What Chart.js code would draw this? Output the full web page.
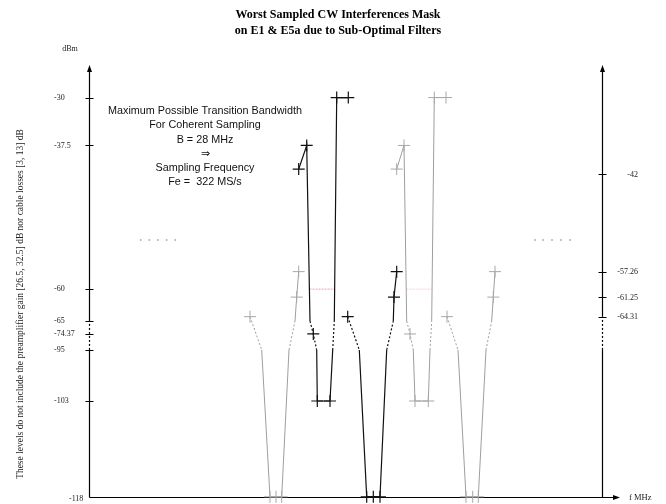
<!DOCTYPE html>
<html><head><meta charset="utf-8">
<script src="https://cdn.jsdelivr.net/npm/chart.js@4.4.1/dist/chart.umd.min.js"></script>
<style>html,body{margin:0;padding:0;background:#fff}</style>
</head><body>
<canvas id="c" width="666" height="504"></canvas>
<script>
// ---------- data (x: relative frequency units, y: dBm) ----------
const titleLines = ['Worst Sampled CW Interferences Mask', 'on E1 & E5a due to Sub-Optimal Filters'];
const noteLines = ['Maximum Possible Transition Bandwidth', 'For Coherent Sampling', 'B = 28 MHz', '\u21D2', 'Sampling Frequency', 'Fe =  322 MS/s'];
const sideNote = 'These levels do not include the preamplifier gain [26.5, 32.5] dB nor cable losses [3, 13] dB';

const leftTicks = [-30, -37.5, -60, -65, -74.37, -95, -103, -118];
const leftTickLabels = ['-30', '-37.5', '-60', '-65', '-74.37', '-95', '-103', '-118'];
const rightTicks = [-42, -57.26, -61.25, -64.31];
const rightTickLabels = ['-42', '-57.26', '-61.25', '-64.31'];

// pattern A: peak / notch ; pattern B: deep rejection
const patternAY = [-41.2, -37.5, -65, -74.37, -95, -103, -103, -95, -65, -30, -30];
const patternAMarks = [1, 1, 0, 1, 0, 1, 1, 0, 0, 1, 1];
const patternBY = [-64.31, -95, -118, -118, -118, -95, -65, -61.25, -57.26];
const patternBMarks = [1, 0, 1, 1, 1, 0, 0, 1, 1];

const grayLeftBX  = [161, 172.7, 181, 187, 192.7, 200, 206, 207.7, 209.7];
const blackAX     = [209.7, 217.7, 221, 224.3, 227.7, 228.3, 241, 243.7, 245.3, 247.7, 259.3];
const blackBX     = [258.7, 270.3, 277.7, 284.3, 291, 297.7, 304.3, 305, 307.7];
const grayRightAX = [307.7, 315, 317.7, 321, 324.3, 326, 339.3, 341, 342.7, 345.3, 357];
const grayRightBX = [358, 369, 377, 383.7, 389.3, 397, 402.7, 404.3, 406];

const pinkLevel = -60;
const blackPinkX = [220.5, 245.6];
const grayPinkX = [317.5, 342.9];

const dotsLevel = -52.3;
const dotsLeftX = [51.7, 60.3, 69, 77.7, 86.3];
const dotsRightX = [446, 454, 463, 472, 481];

const axisX = 0, rightAxisX = 513, arrowX = 531;
const xMin = -33, xMax = 531;
const yMin = -118, yMax = -24.9;
const breakTop = -64.3, breakBottom = -95;

// ---------- broken (piecewise) y scale ----------
const warpIn  = [-20, -65, -74.37, -95, -140];
const warpOut = [-20, -65, -67.02, -69.52, -114.52];
function interp(v, a, b) {
  for (let i = 0; i < a.length - 1; i++) {
    const lo = Math.min(a[i], a[i + 1]), hi = Math.max(a[i], a[i + 1]);
    if (v >= lo && v <= hi) return b[i] + (v - a[i]) * (b[i + 1] - b[i]) / (a[i + 1] - a[i]);
  }
  return v > a[0] ? b[0] + (v - a[0]) : b[b.length - 1] + (v - a[a.length - 1]);
}
const warp = v => interp(v, warpIn, warpOut);
const unwarp = v => interp(v, warpOut, warpIn);

class BrokenScale extends Chart.LinearScale {
  configure() {
    super.configure();
    this._startValue = warp(this.min);
    this._endValue = warp(this.max);
    this._valueRange = this._endValue - this._startValue;
  }
  getPixelForValue(v) {
    return v == null ? NaN : this.getPixelForDecimal((warp(v) - this._startValue) / this._valueRange);
  }
  getValueForPixel(p) {
    return unwarp(this._startValue + this.getDecimalForPixel(p) * this._valueRange);
  }
}
BrokenScale.id = 'broken';
BrokenScale.defaults = Chart.LinearScale.defaults;
Chart.register(BrokenScale);

// ---------- datasets ----------
const pts = (xs, ys) => xs.map((x, i) => ({ x, y: ys[i] }));
const inBreak = v => v <= breakTop && v >= breakBottom;
function series(label, xs, ys, marks, line, mark, w) {
  return {
    label, data: pts(xs, ys), borderColor: line, borderWidth: w,
    pointStyle: 'cross', pointBorderColor: mark, pointBorderWidth: w,
    pointRadius: c => marks[c.dataIndex] ? 6 : 0, pointHoverRadius: 0,
    tension: 0, clip: false,
    segment: { borderDash: c => (inBreak(c.p0.parsed.y) && inBreak(c.p1.parsed.y)) ? [2, 2] : undefined }
  };
}
const GRAY = '#9e9e9e', GRAYM = '#a8a8a8', BLACK = '#111111';
const datasets = [
  series('gray left', grayLeftBX, patternBY, patternBMarks, GRAY, GRAYM, 1),
  series('black A', blackAX, patternAY, patternAMarks, BLACK, BLACK, 1.2),
  series('black B', blackBX, patternBY, patternBMarks, BLACK, BLACK, 1.2),
  series('gray right A', grayRightAX, patternAY, patternAMarks, GRAY, GRAYM, 1),
  series('gray right B', grayRightBX, patternBY, patternBMarks, GRAY, GRAYM, 1),
  { label: 'pink black', data: pts(blackPinkX, [pinkLevel, pinkLevel]), borderColor: '#f29bc4', borderWidth: 1, borderDash: [2, 1], pointRadius: 0 },
  { label: 'pink gray', data: pts(grayPinkX, [pinkLevel, pinkLevel]), borderColor: '#f9cde0', borderWidth: 1, borderDash: [2, 1], pointRadius: 0 },
  { label: 'dots left', data: pts(dotsLeftX, dotsLeftX.map(() => dotsLevel)), showLine: false, pointStyle: 'rect', pointRadius: 1.1, pointBackgroundColor: '#a0a0a0', pointBorderWidth: 0 },
  { label: 'dots right', data: pts(dotsRightX, dotsRightX.map(() => dotsLevel)), showLine: false, pointStyle: 'rect', pointRadius: 1.1, pointBackgroundColor: '#a0a0a0', pointBorderWidth: 0 }
];

// ---------- axes & text plugin ----------
function vAxis(ctx, x, yBottom, yTop, yBreakA, yBreakB) {
  ctx.beginPath(); ctx.setLineDash([]);
  ctx.moveTo(x, yBottom); ctx.lineTo(x, yBreakB);
  ctx.moveTo(x, yBreakA); ctx.lineTo(x, yTop + 5);
  ctx.stroke();
  ctx.beginPath(); ctx.setLineDash([2, 2]);
  ctx.moveTo(x, yBreakB); ctx.lineTo(x, yBreakA); ctx.stroke();
  ctx.setLineDash([]);
  ctx.beginPath(); ctx.moveTo(x, yTop); ctx.lineTo(x - 2.5, yTop + 7); ctx.lineTo(x + 2.5, yTop + 7); ctx.closePath(); ctx.fill();
}
const axesPlugin = {
  id: 'schematicAxes',
  beforeDatasetsDraw(chart) {
    const { ctx, chartArea: a, scales: { x, y } } = chart;
    const xl = Math.round(x.getPixelForValue(axisX)) + 0.5;
    const xr = Math.round(x.getPixelForValue(rightAxisX)) + 0.5;
    const xe = x.getPixelForValue(arrowX);
    const yb = Math.round(y.getPixelForValue(yMin)) + 0.5;
    const yt = a.top;
    ctx.save();
    ctx.strokeStyle = '#000'; ctx.fillStyle = '#000'; ctx.lineWidth = 1.2;
    vAxis(ctx, xl, yb, yt, y.getPixelForValue(-65), y.getPixelForValue(-95));
    vAxis(ctx, xr, yb, yt, y.getPixelForValue(-64.31), y.getPixelForValue(-95));
    ctx.beginPath(); ctx.moveTo(xl, yb); ctx.lineTo(xe - 5, yb); ctx.stroke();
    ctx.beginPath(); ctx.moveTo(xe, yb); ctx.lineTo(xe - 7, yb - 2.5); ctx.lineTo(xe - 7, yb + 2.5); ctx.closePath(); ctx.fill();
    // tick marks
    ctx.lineWidth = 1;
    leftTicks.forEach(v => {
      if (v === yMin) return;
      const py = Math.round(y.getPixelForValue(v)) + 0.5;
      ctx.beginPath(); ctx.moveTo(xl - 4, py); ctx.lineTo(xl + 4, py); ctx.stroke();
    });
    rightTicks.forEach(v => {
      const py = Math.round(y.getPixelForValue(v)) + 0.5;
      ctx.beginPath(); ctx.moveTo(xr - 4, py); ctx.lineTo(xr + 4, py); ctx.stroke();
    });
    // tick labels
    ctx.fillStyle = '#222'; ctx.font = '8px "Liberation Serif"'; ctx.textBaseline = 'middle';
    leftTicks.forEach((v, i) => {
      ctx.textAlign = 'left';
      if (v === yMin) { ctx.fillText(leftTickLabels[i], 69, yb + 1); return; }
      ctx.fillText(leftTickLabels[i], 54, y.getPixelForValue(v));
    });
    ctx.textAlign = 'right';
    rightTicks.forEach((v, i) => ctx.fillText(rightTickLabels[i], 638, y.getPixelForValue(v) + 0.5));
    ctx.textAlign = 'center'; ctx.fillText('dBm', 70, 49);
    ctx.font = '8.5px "Liberation Serif"'; ctx.textAlign = 'left'; ctx.fillText('f MHz', 629, yb);
    // side note
    ctx.save(); ctx.translate(20, 304); ctx.rotate(-Math.PI / 2);
    ctx.font = '9.5px "Liberation Serif"'; ctx.textAlign = 'center'; ctx.fillText(sideNote, 0, 0);
    ctx.restore();
    // annotation
    ctx.fillStyle = '#111'; ctx.font = '10.8px "Liberation Sans"'; ctx.textAlign = 'center';
    noteLines.forEach((t, i) => ctx.fillText(t, 205, 111 + i * 14.3));
    ctx.restore();
  }
};

new Chart(document.getElementById('c'), {
  type: 'line',
  data: { datasets },
  options: {
    responsive: false, animation: false, devicePixelRatio: 1,
    layout: { padding: { left: 56, right: 46, top: 0, bottom: 6 } },
    plugins: {
      legend: { display: false }, tooltip: { enabled: false },
      title: {
        display: true, text: titleLines, color: '#000',
        font: { family: 'Liberation Serif', size: 12, weight: 'bold', lineHeight: 1.333 },
        padding: { top: 7, bottom: 26 }
      }
    },
    scales: {
      x: { type: 'linear', display: false, min: xMin, max: xMax },
      y: { type: 'broken', display: false, min: yMin, max: yMax }
    }
  },
  plugins: [axesPlugin]
});
</script>
</body></html>
